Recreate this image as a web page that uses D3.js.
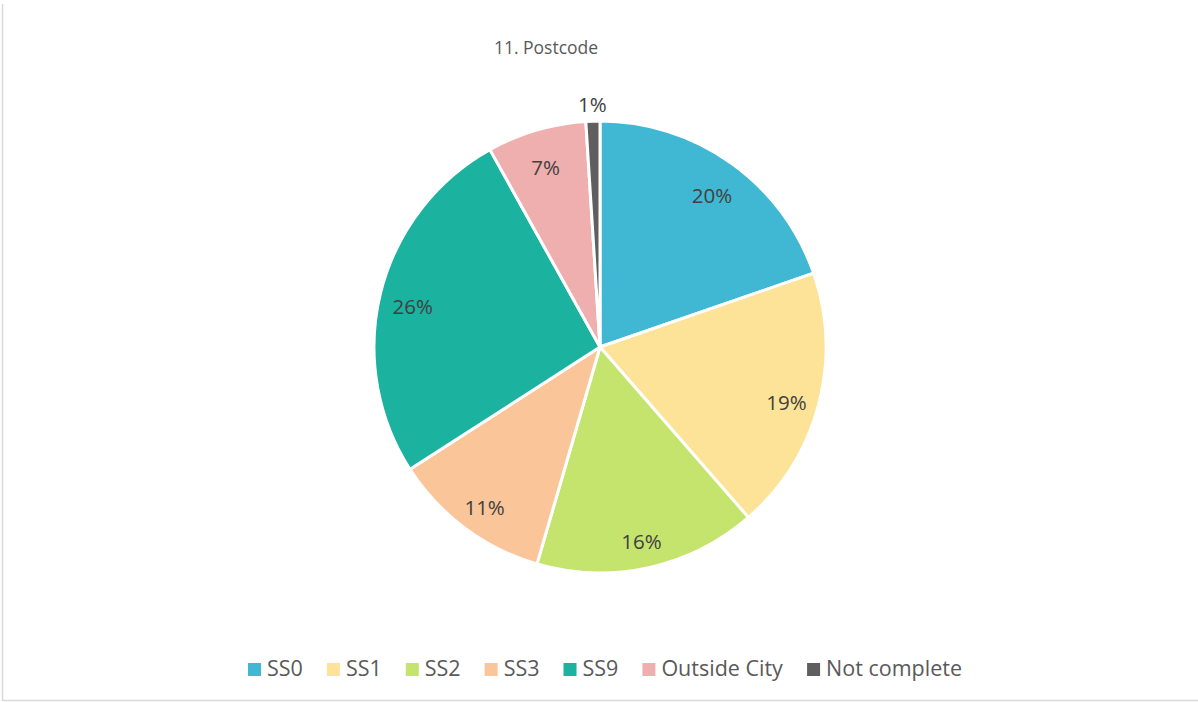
<!DOCTYPE html>
<html>
  <head>
    <meta charset="utf-8">
    <title>11. Postcode</title>
    <script src="https://d3js.org/d3.v7.min.js"></script>
    <style>
      body { margin: 0; background: #fff; font-family: "Open Sans", sans-serif; }
      svg { display: block; }
    </style>
  </head>
  <body>
    <div id="chart"></div>
    <script>
      // data (percent of respondents)
      var categories = ["SS0", "SS1", "SS2", "SS3", "SS9", "Outside City", "Not complete"];
      var values = [19.7, 18.9, 15.9, 11.4, 26.0, 7.1, 1.0];
      var colors = ["#41b8d3", "#fde398", "#c5e46d", "#fbc59a", "#1bb2a0", "#efafaf", "#5f5f5f"];

      var width = 1198, height = 702;
      var cx = 600, cy = 347, radius = 226;

      var svg = d3.select("#chart").append("svg")
        .attr("width", width)
        .attr("height", height);

      // chart frame (only left and bottom edges are visible)
      svg.append("line").attr("x1", 2.5).attr("y1", 4).attr("x2", 2.5).attr("y2", 701)
        .attr("stroke", "#d9d9d9").attr("stroke-width", 1.5);
      svg.append("line").attr("x1", 2).attr("y1", 700.5).attr("x2", width).attr("y2", 700.5)
        .attr("stroke", "#d9d9d9").attr("stroke-width", 1.5);

      svg.append("text")
        .attr("x", 546).attr("y", 54)
        .attr("text-anchor", "middle")
        .attr("font-size", 17.5)
        .attr("fill", "#595959")
        .text("11. Postcode");

      var data = categories.map(function(c, i) { return { name: c, value: values[i], color: colors[i] }; });

      var pie = d3.pie().sort(null).value(function(d) { return d.value; });
      var arcs = pie(data);

      var arc = d3.arc().innerRadius(0).outerRadius(radius);
      var labelArc = d3.arc().innerRadius(193).outerRadius(193);
      var outerArc = d3.arc().innerRadius(radius + 16).outerRadius(radius + 16);

      var g = svg.append("g").attr("transform", "translate(" + cx + "," + cy + ")");

      g.selectAll("path")
        .data(arcs)
        .enter().append("path")
          .attr("d", arc)
          .attr("fill", function(d) { return d.data.color; })
          .attr("stroke", "#fff")
          .attr("stroke-width", 3)
          .attr("stroke-linejoin", "round");

      // small slices get their label just outside the pie
      g.selectAll("text.lbl")
        .data(arcs)
        .enter().append("text")
          .attr("class", "lbl")
          .attr("transform", function(d) {
            var p = d.data.value < 3 ? outerArc.centroid(d) : labelArc.centroid(d);
            return "translate(" + p + ")";
          })
          .attr("text-anchor", "middle")
          .attr("dy", function(d) { return d.data.value < 3 ? "0.35em" : "0.65em"; })
          .attr("font-size", 20.5)
          .attr("fill", "#404040")
          .text(function(d) { return Math.round(d.data.value) + "%"; });

      // legend, centred under the pie
      var legend = svg.append("g");
      var items = legend.selectAll("g")
        .data(data)
        .enter().append("g");
      items.append("rect")
        .attr("width", 13).attr("height", 13)
        .attr("y", -13)
        .attr("fill", function(d) { return d.color; });
      items.append("text")
        .attr("x", 19)
        .attr("font-size", 21.5)
        .attr("fill", "#595959")
        .text(function(d) { return d.name; });

      var x = 0, gap = 24;
      items.each(function() {
        var w = this.getBBox().width;
        d3.select(this).attr("transform", "translate(" + x + ",0)");
        x += w + gap;
      });
      var total = x - gap;
      legend.attr("transform", "translate(" + (605 - total / 2) + ",676)");
    </script>
  </body>
</html>
